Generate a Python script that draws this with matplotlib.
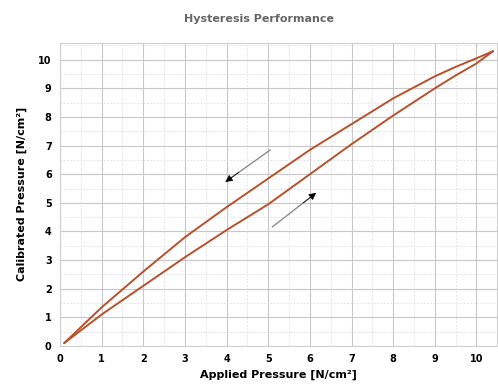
import matplotlib.pyplot as plt
from matplotlib.ticker import MultipleLocator

# courbes
x_pts = [0.1, 1, 2, 3, 4, 5, 6, 7, 8, 9, 9.5, 10, 10.4]
y_descente = [0.1, 1.35, 2.6, 3.8, 4.85, 5.85, 6.85, 7.75, 8.65, 9.42, 9.75, 10.05, 10.3]
y_montee = [0.1, 1.1, 2.1, 3.1, 4.05, 4.95, 6.0, 7.05, 8.05, 9.0, 9.45, 9.87, 10.3]
ticks = list(range(0, 11))

# fleches (queue -> pointe)
fleches = [((5.05, 6.85), (3.97, 5.73)), ((5.1, 4.16), (6.15, 5.35))]

couleur = '#b9502c'

fig = plt.figure(figsize=(4.98, 3.87), dpi=100)
ax = fig.add_axes([0.1205, 0.106, 0.878, 0.784])

ax.plot(x_pts, y_descente, color=couleur, lw=1.4, solid_capstyle='round')
ax.plot(x_pts, y_montee, color=couleur, lw=1.4, solid_capstyle='round')

for queue, pointe in fleches:
    ax.annotate('', xy=pointe, xytext=queue,
                arrowprops=dict(arrowstyle='-', color='#8c8c8c', lw=1.0, shrinkA=0, shrinkB=4))
    ax.annotate('', xy=pointe, xytext=(pointe[0] + 0.3 * (queue[0] - pointe[0]), pointe[1] + 0.3 * (queue[1] - pointe[1])),
                arrowprops=dict(arrowstyle='-|>', color='black', lw=0.5, mutation_scale=11, shrinkA=0, shrinkB=0))

ax.set_xlim(0, 10.5)
ax.set_ylim(0, 10.6)
ax.set_xticks(ticks)
ax.set_yticks(ticks)
ax.xaxis.set_minor_locator(MultipleLocator(0.5))
ax.yaxis.set_minor_locator(MultipleLocator(0.5))
ax.grid(which='major', color='#c8c8c8', lw=0.8)
ax.grid(which='minor', color='#dddddd', lw=0.6, ls=(0, (2, 2)))
ax.set_axisbelow(True)
ax.tick_params(which='both', length=0, labelsize=7, pad=6)
for lab in ax.get_xticklabels() + ax.get_yticklabels():
    lab.set_fontweight('bold')
for s in ax.spines.values():
    s.set_color('#d0d0d0')
    s.set_linewidth(0.8)

ax.set_xlabel('Applied Pressure [N/cm²]', fontsize=8, fontweight='bold', labelpad=4)
ax.set_ylabel('Calibrated Pressure [N/cm²]', fontsize=8, fontweight='bold', labelpad=8)
fig.text(0.52, 0.95, 'Hysteresis Performance', ha='center', va='center',
         fontsize=8, color='#666666', fontweight='bold')

fig.savefig('out.png', dpi=100)
